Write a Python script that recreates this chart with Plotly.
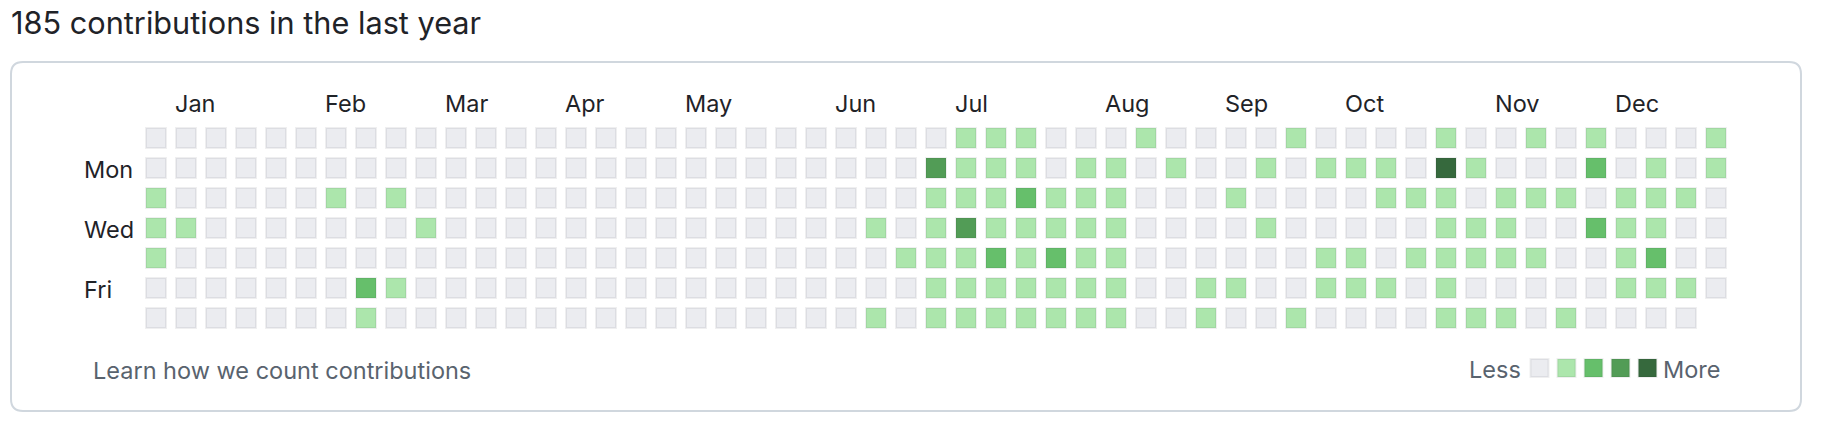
import plotly.graph_objects as go

# ---------------- data ----------------
title_text = "185 contributions in the last year"
weekday_names = ["Sun", "Mon", "Tue", "Wed", "Thu", "Fri", "Sat"]
weekday_labels = {1: "Mon", 3: "Wed", 5: "Fri"}

month_names = ["Jan", "Feb", "Mar", "Apr", "May", "Jun",
               "Jul", "Aug", "Sep", "Oct", "Nov", "Dec"]
month_start_week = [1, 6, 10, 14, 18, 23, 27, 32, 36, 40, 45, 49]

# contribution level (0-4) per week column, one list per weekday
sun = [0]*27 + [1, 1, 1, 0, 0, 0, 1, 0, 0, 0, 0, 1, 0, 0, 0, 0, 1, 0, 0, 1, 0, 1, 0, 0, 0, 1]
mon = [0]*26 + [3, 1, 1, 1, 0, 1, 1, 0, 1, 0, 0, 1, 0, 1, 1, 1, 0, 4, 1, 0, 0, 0, 2, 0, 1, 0, 1]
tue = ([1, 0, 0, 0, 0, 0, 1, 0, 1] + [0]*17 +
       [1, 1, 1, 2, 1, 1, 1, 0, 0, 0, 1, 0, 0, 0, 0, 1, 1, 1, 0, 1, 1, 1, 0, 1, 1, 1, 0])
wed = ([1, 1, 0, 0, 0, 0, 0, 0, 0, 1] + [0]*14 + [1, 0] +
       [1, 3, 1, 1, 1, 1, 1, 0, 0, 0, 0, 1, 0, 0, 0, 0, 0, 1, 1, 1, 0, 0, 2, 1, 1, 0, 0])
thu = ([1] + [0]*24 + [1] +
       [1, 1, 2, 1, 2, 1, 1, 0, 0, 0, 0, 0, 0, 1, 1, 0, 1, 1, 1, 1, 1, 0, 0, 1, 2, 0, 0])
fri = ([0]*7 + [2, 1] + [0]*17 +
       [1, 1, 1, 1, 1, 1, 1, 0, 0, 1, 1, 0, 0, 1, 1, 1, 0, 1, 0, 0, 0, 0, 0, 1, 1, 1, 0])
sat = ([0]*7 + [1] + [0]*16 + [1, 0] +
       [1, 1, 1, 1, 1, 1, 1, 0, 0, 1, 0, 0, 1, 0, 0, 0, 0, 1, 1, 1, 0, 1, 0, 0, 0, 0])

week_rows = [sun, mon, tue, wed, thu, fri, sat]

level_colors = ["#ebecf0", "#ace6ac", "#66bf6b", "#529c56", "#36693d"]
legend_levels = [0, 1, 2, 3, 4]

# ---------------- figure ----------------
W, H = 1828, 440
def px(x):
    return x / W
def py(y):
    return 1 - y / H

text_dark = "#1f2328"
text_muted = "#59636e"
FONT = "Inter, 'Noto Sans', 'Liberation Sans', sans-serif"

fig = go.Figure()

# grid cells, one trace per level
for lvl, col in enumerate(level_colors):
    xs, ys = [], []
    for r, row in enumerate(week_rows):
        for c, v in enumerate(row):
            if v == lvl:
                xs.append(c)
                ys.append(r)
    fig.add_trace(go.Scatter(
        x=xs, y=ys, mode="markers",
        marker=dict(symbol="square", size=20, color=col,
                    line=dict(color="rgba(31,35,40,0.07)", width=2)),
        hoverinfo="skip", showlegend=False, xaxis="x", yaxis="y",
    ))

# legend squares
fig.add_trace(go.Scatter(
    x=legend_levels, y=[0]*len(legend_levels), mode="markers",
    marker=dict(symbol="square", size=18, color=[level_colors[l] for l in legend_levels],
                line=dict(color="rgba(31,35,40,0.07)", width=2)),
    hoverinfo="skip", showlegend=False, xaxis="x2", yaxis="y2",
))

annotations = []
# title
annotations.append(dict(text=title_text, x=px(11), y=py(22.5), xref="paper", yref="paper",
                        xanchor="left", yanchor="middle", showarrow=False,
                        font=dict(family=FONT, size=30.7, color=text_dark),
                        borderpad=0, borderwidth=0))
# month labels
for name, wk in zip(month_names, month_start_week):
    annotations.append(dict(text=name, x=wk - 11/30, y=py(103), xref="x", yref="paper",
                            xanchor="left", yanchor="middle", showarrow=False,
                            font=dict(family=FONT, size=23.5, color=text_dark),
                            borderpad=0, borderwidth=0))
# weekday labels
for r, name in weekday_labels.items():
    annotations.append(dict(text=name, x=px(84), y=r + 1/30, xref="paper", yref="y",
                            xanchor="left", yanchor="middle", showarrow=False,
                            font=dict(family=FONT, size=23.5, color=text_dark),
                            borderpad=0, borderwidth=0))
# footer
annotations.append(dict(text="Learn how we count contributions", x=px(93), y=py(370),
                        xref="paper", yref="paper", xanchor="left", yanchor="middle",
                        showarrow=False, font=dict(family=FONT, size=23.5, color=text_muted),
                        borderpad=0, borderwidth=0))
annotations.append(dict(text="Less", x=px(1521), y=py(369.5), xref="paper", yref="paper",
                        xanchor="right", yanchor="middle", showarrow=False,
                        font=dict(family=FONT, size=23.5, color=text_muted),
                        borderpad=0, borderwidth=0))
annotations.append(dict(text="More", x=px(1663), y=py(369.5), xref="paper", yref="paper",
                        xanchor="left", yanchor="middle", showarrow=False,
                        font=dict(family=FONT, size=23.5, color=text_muted),
                        borderpad=0, borderwidth=0))

# rounded box
x0, x1, y0, y1, rad = 11, 1801, 62, 411, 12
rx, ry = rad / W, rad / H
X0, X1, Y0, Y1 = px(x0), px(x1), py(y1), py(y0)
path = (f"M {X0+rx},{Y1} L {X1-rx},{Y1} Q {X1},{Y1} {X1},{Y1-ry} "
        f"L {X1},{Y0+ry} Q {X1},{Y0} {X1-rx},{Y0} L {X0+rx},{Y0} "
        f"Q {X0},{Y0} {X0},{Y0+ry} L {X0},{Y1-ry} Q {X0},{Y1} {X0+rx},{Y1} Z")
shapes = [dict(type="path", path=path, xref="paper", yref="paper",
               line=dict(color="#d0d7de", width=2), fillcolor="rgba(0,0,0,0)", layer="below")]

# axis ranges mapping columns/rows to pixel centres: x = 156 + 30c, y = 138 + 30r
xr = [-156/30, (W - 156)/30]
yr = [(H - 138)/30, -138/30]

hidden = dict(visible=False, showgrid=False, zeroline=False, fixedrange=True)
fig.update_layout(
    width=W, height=H, autosize=False,
    margin=dict(l=0, r=0, t=0, b=0, pad=0),
    paper_bgcolor="white", plot_bgcolor="white",
    xaxis=dict(range=xr, domain=[0, 1], **hidden),
    yaxis=dict(range=yr, domain=[0, 1], **hidden),
    xaxis2=dict(range=[-0.5, 4.5], domain=[px(1526), px(1661)], anchor="y2", **hidden),
    yaxis2=dict(range=[-1, 1], domain=[py(382), py(354)], anchor="x2", **hidden),
    annotations=annotations,
    shapes=shapes,
    showlegend=False,
)

fig.write_html("out.html", config={"displayModeBar": False, "staticPlot": True},
               post_script="document.body.style.margin='0';document.body.style.overflow='hidden';")
